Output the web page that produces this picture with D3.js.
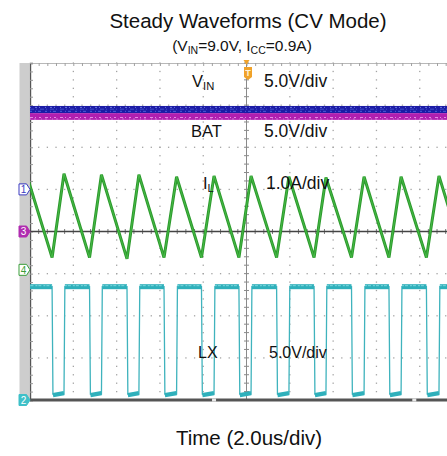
<!DOCTYPE html>
<html>
<head>
<meta charset="utf-8">
<script src="https://cdn.jsdelivr.net/npm/d3@7"></script>
<style>
  body { margin: 0; background: #fff; }
  svg { display: block; font-family: "Liberation Sans", Arial, sans-serif; }
</style>
</head>
<body>
<svg id="chart" width="447" height="456"></svg>
<script>
// ---- Scope setup -------------------------------------------------------
// Time in µs relative to the trigger point, 2.0 µs/div, 10 divisions wide
const timeDomain = [-10, 10];
// Vertical screen position in divisions, 8 divisions tall
const divDomain = [-4, 4];

// Channel ground positions (divisions from centre) and sensitivities
const channelIds     = ["1", "2", "3", "4"];
const channelNames   = ["VIN", "LX", "BAT", "IL"];
const channelOffsets = [1.0, -4.0, 0.0, -0.91];
const channelPerDiv  = [5.0, 5.0, 5.0, 1.0];
const channelColors  = ["#1c1ca6", "#33b6c0", "#b01fb0", "#2f9f2f"];

// ---- Waveform readings ---------------------------------------------------
// Input and battery voltages: noise band [min, max] in volts
const vinBand = [9.05, 9.9];
const batBand = [13.25, 14.05];

// Inductor current: peak instants (switch off) and valley instants (switch on), µs
const peakTimes   = [-10.16, -8.43, -6.70, -4.97, -3.23, -1.50, 0.21, 1.96, 3.67, 5.43, 7.14, 8.89];
const peakAmps    = [2.26, 2.28, 2.26, 2.26, 2.21, 2.23, 2.23, 2.21, 2.19, 2.21, 2.21, 2.23];
const valleyTimes = [-8.98, -7.25, -5.52, -3.81, -2.08, -0.35, 1.39, 3.12, 4.85, 6.58, 8.31, 10.05];
const valleyAmps  = [0.29, 0.29, 0.26, 0.29, 0.29, 0.29, 0.29, 0.29, 0.29, 0.29, 0.29, 0.29];

// Switch node levels, volts
const lxHigh = 13.45;
const lxLow  = 0.7;

// Labels drawn on the screen
const traceLabels = [
  { main: "V", sub: "IN", scaleText: "5.0V/div" },
  { main: "BAT", sub: "", scaleText: "5.0V/div" },
  { main: "I", sub: "L", scaleText: "1.0A/div" },
  { main: "LX", sub: "", scaleText: "5.0V/div" }
];

// ---- Layout ------------------------------------------------------------
const W = 447, H = 456;
const screen = { left: 30, top: 63, right: 463, bottom: 400 };

const svg = d3.select("#chart");
const x = d3.scaleLinear().domain(timeDomain).range([screen.left, screen.right]);
const yDiv = d3.scaleLinear().domain(divDomain).range([screen.bottom, screen.top]);
const chan = id => channelIds.indexOf(id);
const yOf = id => v => yDiv(channelOffsets[chan(id)] + v / channelPerDiv[chan(id)]);

svg.append("defs").append("clipPath").attr("id", "screenClip")
  .append("rect")
  .attr("x", screen.left).attr("y", screen.top - 1)
  .attr("width", W - screen.left).attr("height", screen.bottom - screen.top + 2);

// ---- Titles --------------------------------------------------------------
svg.append("text").attr("x", 248).attr("y", 28).attr("text-anchor", "middle")
  .attr("font-size", 20.5).attr("fill", "#111").text("Steady Waveforms (CV Mode)");

const sub = svg.append("text").attr("x", 242).attr("y", 51).attr("text-anchor", "middle")
  .attr("font-size", 15.5).attr("fill", "#111");
sub.append("tspan").text("(V");
sub.append("tspan").attr("font-size", 10.5).attr("dy", 3).text("IN");
sub.append("tspan").attr("dy", -3).text("=9.0V, I");
sub.append("tspan").attr("font-size", 10.5).attr("dy", 3).text("CC");
sub.append("tspan").attr("dy", -3).text("=0.9A)");

svg.append("text").attr("x", 249).attr("y", 445).attr("text-anchor", "middle")
  .attr("font-size", 20.5).attr("fill", "#111").text("Time (2.0us/div)");

// ---- Graticule -----------------------------------------------------------
// Grey marker strip on the left
svg.append("rect").attr("x", 19.5).attr("y", screen.top).attr("width", 10)
  .attr("height", screen.bottom - screen.top + 2).attr("fill", "#cdcdcd");

const grid = svg.append("g").attr("clip-path", "url(#screenClip)");
const majorT = d3.range(-8, 9, 2).filter(t => t !== 0);
const majorD = d3.range(-3, 4, 1).filter(d => d !== 0);
const minorT = d3.range(-10, 10.001, 0.4);
const minorD = d3.range(-4, 4.001, 0.2);

// Dotted division lines
majorT.forEach(t => {
  grid.selectAll(null).data(minorD).join("rect")
    .attr("x", x(t) - 0.6).attr("y", d => yDiv(d) - 0.6)
    .attr("width", 1.3).attr("height", 1.3).attr("fill", "#a4a4a4");
});
majorD.forEach(dv => {
  grid.selectAll(null).data(minorT).join("rect")
    .attr("x", t => x(t) - 0.6).attr("y", yDiv(dv) - 0.6)
    .attr("width", 1.3).attr("height", 1.3).attr("fill", "#a4a4a4");
});

// Top edge ticks
const topAxis = grid.append("g").attr("transform", `translate(0,${screen.top})`)
  .call(d3.axisBottom(x).tickValues(minorT).tickSize(3).tickFormat(""));
topAxis.select(".domain").attr("stroke", "#b8b8b8");
topAxis.selectAll(".tick line").attr("stroke", "#a0a0a0");

// Left edge ticks
const leftAxis = svg.append("g").attr("transform", `translate(${screen.left},0)`)
  .call(d3.axisRight(yDiv).tickValues(minorD).tickSize(3).tickFormat(""));
leftAxis.select(".domain").attr("stroke", "#555").attr("stroke-width", 1.4);
leftAxis.selectAll(".tick line").attr("stroke", "#999");

// Centre crosshair with minor ticks
const cx = x(0), cy = yDiv(0);
grid.append("line").attr("x1", cx).attr("x2", cx).attr("y1", screen.top).attr("y2", screen.bottom)
  .attr("stroke", "#8a8a8a").attr("stroke-width", 1);
grid.selectAll(null).data(minorD).join("line")
  .attr("x1", cx - 2.5).attr("x2", cx + 2.5)
  .attr("y1", d => yDiv(d)).attr("y2", d => yDiv(d))
  .attr("stroke", "#8a8a8a");
grid.selectAll(null).data(minorT).join("line")
  .attr("x1", t => x(t)).attr("x2", t => x(t))
  .attr("y1", cy - 2.5).attr("y2", cy + 2.5)
  .attr("stroke", "#777");

// ---- Traces --------------------------------------------------------------
const traces = svg.append("g").attr("clip-path", "url(#screenClip)");
const line = d3.line().x(d => x(d[0])).y(d => d[1]);

// VIN noise band
const yVin = yOf("1");
traces.append("rect")
  .attr("x", x(timeDomain[0])).attr("width", x(timeDomain[1]) - x(timeDomain[0]))
  .attr("y", yVin(vinBand[1])).attr("height", yVin(vinBand[0]) - yVin(vinBand[1]))
  .attr("fill", channelColors[chan("1")]);
[[0.25, "#4b5fd6", "2 3 1 2 3 4"], [0.55, "#3d4fc8", "4 2 1 3"], [0.8, "#6a78e0", "1 4 2 2 1 5"]]
  .forEach(([f, c, dash]) => {
    const v = vinBand[0] + f * (vinBand[1] - vinBand[0]);
    traces.append("line").attr("x1", x(timeDomain[0])).attr("x2", x(timeDomain[1]))
      .attr("y1", yVin(v)).attr("y2", yVin(v))
      .attr("stroke", c).attr("stroke-width", 1).attr("stroke-dasharray", dash);
  });

// BAT noise band
const yBat = yOf("3");
traces.append("rect")
  .attr("x", x(timeDomain[0])).attr("width", x(timeDomain[1]) - x(timeDomain[0]))
  .attr("y", yBat(batBand[1])).attr("height", yBat(batBand[0]) - yBat(batBand[1]))
  .attr("fill", channelColors[chan("3")]);
[[0.35, "#e58ae5", "3 2 1 3 2 4"], [0.12, "#d070d8", "1 3 2 5"]]
  .forEach(([f, c, dash]) => {
    const v = batBand[0] + f * (batBand[1] - batBand[0]);
    traces.append("line").attr("x1", x(timeDomain[0])).attr("x2", x(timeDomain[1]))
      .attr("y1", yBat(v)).attr("y2", yBat(v))
      .attr("stroke", c).attr("stroke-width", 1).attr("stroke-dasharray", dash);
  });

// Centre reference line of channel 3
traces.append("line").attr("x1", screen.left).attr("x2", W)
  .attr("y1", cy).attr("y2", cy).attr("stroke", "#444").attr("stroke-width", 1.4);

// Inductor current triangle wave
const yIL = yOf("4");
const ilPts = [];
peakTimes.forEach((t, i) => {
  ilPts.push([t, yIL(peakAmps[i])]);
  ilPts.push([valleyTimes[i], yIL(valleyAmps[i])]);
});
traces.append("path").attr("d", line(ilPts)).attr("fill", "none")
  .attr("stroke", "#2c9a2c").attr("stroke-width", 3).attr("stroke-linejoin", "miter");
traces.append("path").attr("d", line(ilPts)).attr("fill", "none")
  .attr("stroke", "#4cc04c").attr("stroke-width", 0.8);

// Switch node square wave
const yLX = yOf("2");
const edge = 0.04;
const lxPts = [];
peakTimes.forEach((t, i) => {
  lxPts.push([t, yLX(lxLow)], [t + edge, yLX(lxHigh)]);
  lxPts.push([valleyTimes[i], yLX(lxHigh)], [valleyTimes[i] + edge, yLX(lxLow)]);
});
traces.append("path").attr("d", line(lxPts)).attr("fill", "none")
  .attr("stroke", "#3fb3bd").attr("stroke-width", 1.3);
peakTimes.forEach((t, i) => {
  // off-state (high) and on-state (low) levels drawn as thick noisy bands
  traces.append("line")
    .attr("x1", x(t + edge)).attr("x2", x(valleyTimes[i]))
    .attr("y1", yLX(lxHigh)).attr("y2", yLX(lxHigh))
    .attr("stroke", "#2fb0bb").attr("stroke-width", 5);
  traces.append("line")
    .attr("x1", x(t + edge)).attr("x2", x(valleyTimes[i]))
    .attr("y1", yLX(lxHigh) - 1).attr("y2", yLX(lxHigh) - 1)
    .attr("stroke", "#7fd8de").attr("stroke-width", 1).attr("stroke-dasharray", "2 1 3 2");
  if (i + 1 < peakTimes.length) {
    traces.append("line")
      .attr("x1", x(valleyTimes[i] + edge)).attr("x2", x(peakTimes[i + 1]))
      .attr("y1", yLX(lxLow) + 1).attr("y2", yLX(lxLow) - 1)
      .attr("stroke", "#2fb0bb").attr("stroke-width", 4.5);
  }
});

// Bottom edge
svg.append("line").attr("x1", screen.left).attr("x2", W)
  .attr("y1", screen.bottom).attr("y2", screen.bottom)
  .attr("stroke", "#555").attr("stroke-width", 3);
svg.selectAll(null).data([-1.5, 7.75]).join("rect")
  .attr("x", t => x(t) - 2).attr("y", screen.bottom - 1.5).attr("width", 4).attr("height", 3)
  .attr("fill", "#e8e8e8");

// ---- Channel ground markers ---------------------------------------------
const markerStyle = {
  "1": { fill: "#fff", stroke: "#3a3ac0", text: "#3a3ac0" },
  "2": { fill: "#3fc0c8", stroke: "#3fc0c8", text: "#fff" },
  "3": { fill: "#b02cb0", stroke: "#b02cb0", text: "#fff" },
  "4": { fill: "#fff", stroke: "#3a9e3a", text: "#3a9e3a" }
};
channelIds.forEach((id, i) => {
  const yy = yDiv(channelOffsets[i]);
  const st = markerStyle[id];
  const g = svg.append("g").attr("transform", `translate(19,${yy})`);
  g.append("path").attr("d", "M0,-5.5 L7.5,-5.5 L11,0 L7.5,5.5 L0,5.5 Z")
    .attr("fill", st.fill).attr("stroke", st.stroke).attr("stroke-width", 1);
  g.append("text").attr("x", 4.5).attr("y", 3.8).attr("text-anchor", "middle")
    .attr("font-size", 10).attr("fill", st.text).text(id);
});

// ---- Trigger marker -----------------------------------------------------
svg.append("path").attr("d", `M${cx - 3},${screen.top - 3} L${cx + 3},${screen.top - 3} L${cx},${screen.top + 2} Z`)
  .attr("fill", "#f0a22a");
const trig = svg.append("g").attr("transform", `translate(${cx + 1.5},67)`);
trig.append("path").attr("d", "M-4,0 L4,0 L4,10 L0,13 L-4,10 Z").attr("fill", "#f0a22a");
trig.append("text").attr("x", 0).attr("y", 9).attr("text-anchor", "middle")
  .attr("font-size", 9).attr("font-weight", "bold").attr("fill", "#fff3d8").text("T");

// ---- Trace labels -------------------------------------------------------
const labelRows = [
  { x: 192, xs: 264, y: 87, size: 16.5, sizeS: 17.5 },
  { x: 191, xs: 264, y: 137, size: 16.5, sizeS: 17.5 },
  { x: 203, xs: 266, y: 189, size: 16.5, sizeS: 17.5 },
  { x: 198, xs: 269, y: 358, size: 16, sizeS: 16 }
];
traceLabels.forEach((lab, i) => {
  const r = labelRows[i];
  const t = svg.append("text").attr("x", r.x).attr("y", r.y)
    .attr("font-size", r.size).attr("fill", "#111");
  t.append("tspan").text(lab.main);
  if (lab.sub) t.append("tspan").attr("font-size", r.size * 0.68).attr("dy", 3).text(lab.sub);
  svg.append("text").attr("x", r.xs).attr("y", r.y)
    .attr("font-size", r.sizeS).attr("fill", "#111").text(lab.scaleText);
});
</script>
</body>
</html>
